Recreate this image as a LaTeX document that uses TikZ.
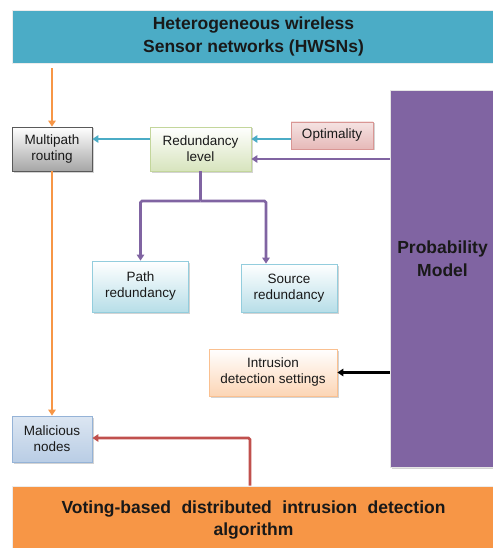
\documentclass[tikz,border=0pt]{standalone}
\usepackage{fontspec}
\setmainfont{Liberation Sans}
\usepackage{tikz}
\usepackage{xcolor}
\usetikzlibrary{arrows.meta, shadows, positioning}
\definecolor{hwsnblue}{HTML}{4BACC6}
\definecolor{probpurple}{HTML}{8064A2}
\definecolor{voteorange}{HTML}{F79646}
\definecolor{alertred}{HTML}{C0504D}
\definecolor{routegray}{HTML}{A6A6A6}
\definecolor{levelgreen}{HTML}{D7E4BD}
\definecolor{leveledge}{HTML}{C3D69B}
\definecolor{optpink}{HTML}{E6B9B8}
\definecolor{optedge}{HTML}{D99694}
\definecolor{redcyan}{HTML}{B7DEE8}
\definecolor{redcyanedge}{HTML}{93CDDD}
\definecolor{setpeach}{HTML}{FCD5B5}
\definecolor{setpeachedge}{HTML}{FAC090}
\definecolor{malblue}{HTML}{B9CDE5}
\definecolor{malblueedge}{HTML}{95B3D7}

\begin{document}
\begin{tikzpicture}[x=1pt, y=-1pt,
  every node/.style={font=\fontsize{13.5}{16}\selectfont, align=center, inner sep=1pt, text=black!90},
  box/.style={draw, line width=0.8pt, drop shadow={shadow xshift=1.5pt, shadow yshift=-1.5pt, opacity=.35}},
  big/.style={font=\fontsize{17.5}{22.5}\selectfont\bfseries},
  wire/.style={line width=2.6pt},
  link/.style={wire, -{Triangle[length=6pt, width=7.5pt]}}
]
\useasboundingbox (0,0) rectangle (492,548);
%
\node[box, draw=white!85!gray, fill=hwsnblue, minimum width=483pt, minimum height=53pt, big] (hwsn) at (253.5,36.5) {Heterogeneous wireless\\Sensor networks (HWSNs)};
\node[box, draw=black!65, top color=white, bottom color=routegray, minimum width=80pt, minimum height=44pt] (route) at (52,149) {Multipath\\routing};
\node[box, draw=leveledge, top color=white, bottom color=levelgreen, minimum width=101pt, minimum height=44pt] (level) at (200.5,149) {Redundancy\\level};
\node[box, draw=optedge, top color=white!60!optpink, bottom color=optpink, minimum width=82pt, minimum height=27pt] (opt) at (332,135.5) {Optimality};
\node[box, draw=white!80!gray, fill=probpurple, minimum width=105pt, minimum height=377pt] (prob) at (442.5,278.5) {};
\node[big] (problabel) at ([yshift=20pt]prob.center) {Probability\\Model};
\node[box, draw=redcyanedge, top color=white, bottom color=redcyan, minimum width=96pt, minimum height=51pt] (path) at (140.5,286.5) {Path\\redundancy};
\node[box, draw=redcyanedge, top color=white, bottom color=redcyan, minimum width=96pt, minimum height=48pt] (src) at (289,288) {Source\\redundancy};
\node[box, draw=setpeachedge, top color=white, bottom color=setpeach, minimum width=128pt, minimum height=47pt] (ids) at (273,372.5) {Intrusion\\detection settings};
\node[box, draw=malblueedge, top color=white!50!malblue, bottom color=malblue, minimum width=80pt, minimum height=46pt] (mal) at (52,439) {Malicious\\nodes};
\node[box, draw=white!85!gray, fill=voteorange, minimum width=483pt, minimum height=68pt, big] (vote) at (253.5,520) {\makebox[384pt][s]{Voting-based distributed intrusion detection}\\algorithm};
%
\coordinate (fork) at (level.south |- 0,201);
%
\draw[link, voteorange] ([yshift=-5pt]hwsn.south -| route.north) -- (route.north);
\draw[link, voteorange] (route.south) -- (mal.north);
\draw[link, hwsnblue] ([yshift=10pt]level.west) -- ([yshift=10pt]route.east);
\draw[link, hwsnblue] ([yshift=10pt]level.east -| opt.west) -- ([yshift=10pt]level.east);
\draw[link, probpurple] ([yshift=-10pt]level.east -| prob.west) -- ([yshift=-10pt]level.east);
\draw[wire, probpurple, rounded corners=1.5pt] (level.south) -- (fork);
\draw[link, probpurple, rounded corners=1.5pt] (fork) -| (path.north);
\draw[link, probpurple, rounded corners=1.5pt] (fork) -| ([xshift=-23pt]src.north);
\draw[link, black] (ids.east -| prob.west) -- (ids.east);
\draw[link, alertred, rounded corners=1.5pt] ([xshift=-3.5pt]vote.north) |- ([yshift=1pt]mal.east);
%
\end{tikzpicture}
\end{document}
